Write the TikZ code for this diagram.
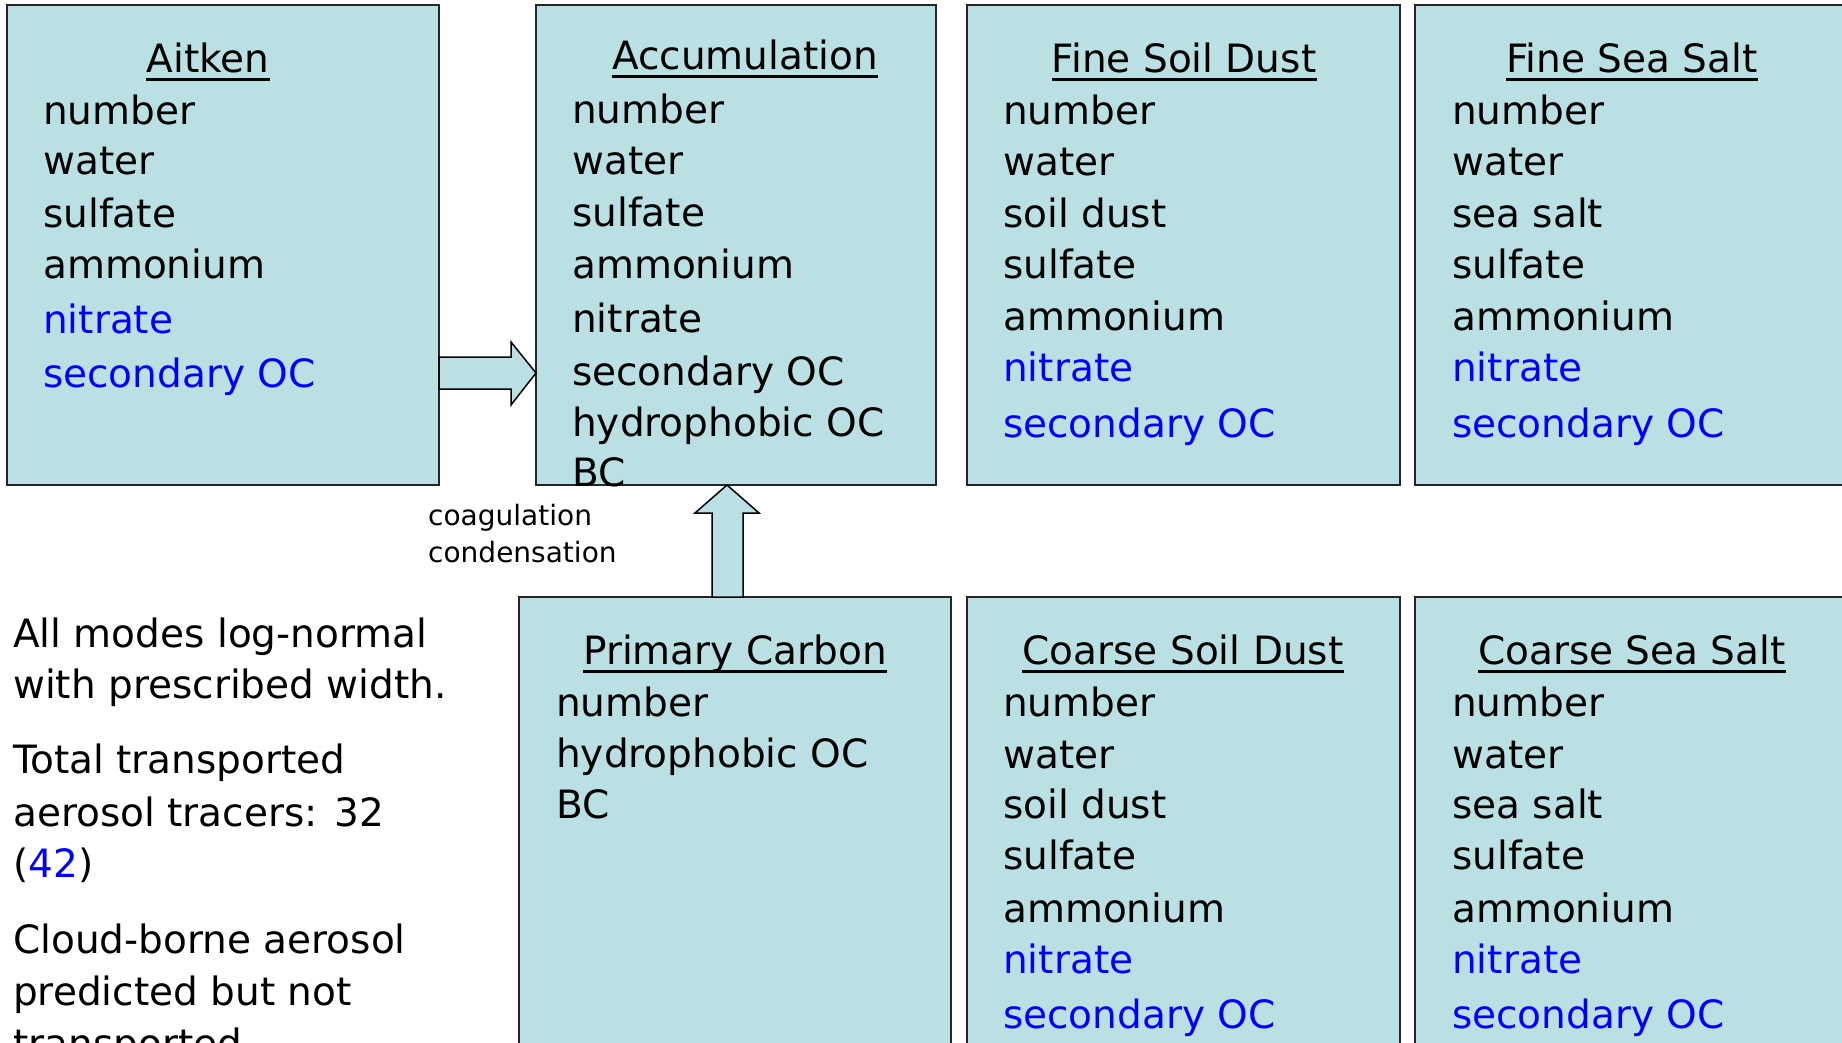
\documentclass[tikz,border=0pt]{standalone}
\usepackage{fontspec}
\setmainfont{DejaVu Sans}
\usetikzlibrary{calc}
\definecolor{boxfill}{RGB}{187,224,227}
\definecolor{bluetxt}{RGB}{0,0,255}
\begin{document}
\begin{tikzpicture}[x=1pt,y=-1pt,
  mode/.style={draw=black!85, line width=2pt, fill=boxfill, inner sep=0pt, outer sep=0pt},
  ttl/.style={anchor=base, inner sep=0pt, font=\fontsize{39}{47}\selectfont},
  itm/.style={anchor=base west, inner sep=0pt, font=\fontsize{39}{47}\selectfont},
  newitm/.style={itm, text=bluetxt},
  note/.style={anchor=base west, inner sep=0pt, font=\fontsize{39}{47}\selectfont},
  smalllbl/.style={anchor=base west, inner sep=0pt, font=\fontsize{28}{34}\selectfont},
  barrow/.style={draw=black, line width=1.5pt, fill=boxfill, line join=miter},
  uline/.style={line width=3pt}
]
\useasboundingbox (0,0) rectangle (1842,1043);
\clip (0,0) rectangle (1842,1043);

% mode boxes
\node[mode, minimum width=432pt, minimum height=480pt] (aitken) at (223,245) {};
\node[mode, minimum width=400pt, minimum height=480pt] (accum) at (736,245) {};
\node[mode, minimum width=433pt, minimum height=480pt] (fsd) at (1183.5,245) {};
\node[mode, minimum width=460pt, minimum height=480pt] (fss) at (1645,245) {};
\node[mode, minimum width=432pt, minimum height=480pt] (prim) at (735,837) {};
\node[mode, minimum width=433pt, minimum height=480pt] (csd) at (1183.5,837) {};
\node[mode, minimum width=460pt, minimum height=480pt] (css) at (1645,837) {};

% block arrows
\draw[barrow] (aitken.east |- 0,357) -- (511,357) -- (511,342) -- (accum.west |- 0,373)
  -- (511,405) -- (511,389) -- (aitken.east |- 0,389) -- cycle;
\draw[barrow] (743,0 |- prim.north) -- (743,513) -- (759,513) -- (727,0 |- accum.south)
  -- (695,513) -- (712,513) -- (712,0 |- prim.north) -- cycle;

% titles
\foreach \n/\x/\y/\t in {ait/208/73/Aitken, acc/745/70/Accumulation,
    fsdt/1184/73/Fine Soil Dust, fsst/1632/73/Fine Sea Salt,
    pct/735/664/Primary Carbon, csdt/1183/664/Coarse Soil Dust, csst/1632/664/Coarse Sea Salt}{
  \node[ttl] (t-\n) at (\x,\y) {\t};
  \draw[uline] ([yshift=-7pt]t-\n.base west) -- ([yshift=-7pt]t-\n.base east);
}

% Aitken
\foreach \t/\y/\s [count=\i] in {number/125/itm, water/175/itm, sulfate/228/itm,
    ammonium/278/itm, nitrate/333/newitm, secondary OC/387/newitm}{
  \node[\s] (ai-\i) at (43,\y) {\t};
}
% Accumulation
\foreach \t/\y [count=\i] in {number/124, water/175, sulfate/226, ammonium/278,
    nitrate/332, secondary OC/385, hydrophobic OC/436, BC/486}{
  \node[itm] (ac-\i) at (572,\y) {\t};
}
% Fine Soil Dust
\foreach \t/\y/\s [count=\i] in {number/125/itm, water/176/itm, soil dust/228/itm,
    sulfate/278/itm, ammonium/330/itm, nitrate/381/newitm, secondary OC/437/newitm}{
  \node[\s] (fd-\i) at (1003,\y) {\t};
}
% Fine Sea Salt
\foreach \t/\y/\s [count=\i] in {number/125/itm, water/176/itm, sea salt/228/itm,
    sulfate/278/itm, ammonium/330/itm, nitrate/381/newitm, secondary OC/437/newitm}{
  \node[\s] (fs-\i) at (1452,\y) {\t};
}
% Primary Carbon
\foreach \t/\y [count=\i] in {number/716, hydrophobic OC/767, BC/818}{
  \node[itm] (pc-\i) at (556,\y) {\t};
}
% Coarse Soil Dust
\foreach \t/\y/\s [count=\i] in {number/716/itm, water/768/itm, soil dust/818/itm,
    sulfate/869/itm, ammonium/922/itm, nitrate/973/newitm, secondary OC/1028/newitm}{
  \node[\s] (cd-\i) at (1003,\y) {\t};
}
% Coarse Sea Salt
\foreach \t/\y/\s [count=\i] in {number/716/itm, water/768/itm, sea salt/818/itm,
    sulfate/869/itm, ammonium/922/itm, nitrate/973/newitm, secondary OC/1028/newitm}{
  \node[\s] (cs-\i) at (1452,\y) {\t};
}

% process labels
\node[smalllbl] (coag) at (428,525) {coagulation};
\node[smalllbl] (cond) at (428,562) {condensation};

% notes
\node[note] (n1) at (13,647) {All modes log-normal};
\node[note] (n2) at (13,698) {with prescribed width.};
\node[note] (n3) at (13,773) {Total transported};
\node[note] (n4) at (13,826) {aerosol tracers: 32};
\node[note] (n5) at (13,877) {(\textcolor{bluetxt}{42})};
\node[note] (n6) at (13,953) {Cloud-borne aerosol};
\node[note] (n7) at (13,1005) {predicted but not};
\node[note] (n8) at (13,1057) {transported};
\end{tikzpicture}
\end{document}
